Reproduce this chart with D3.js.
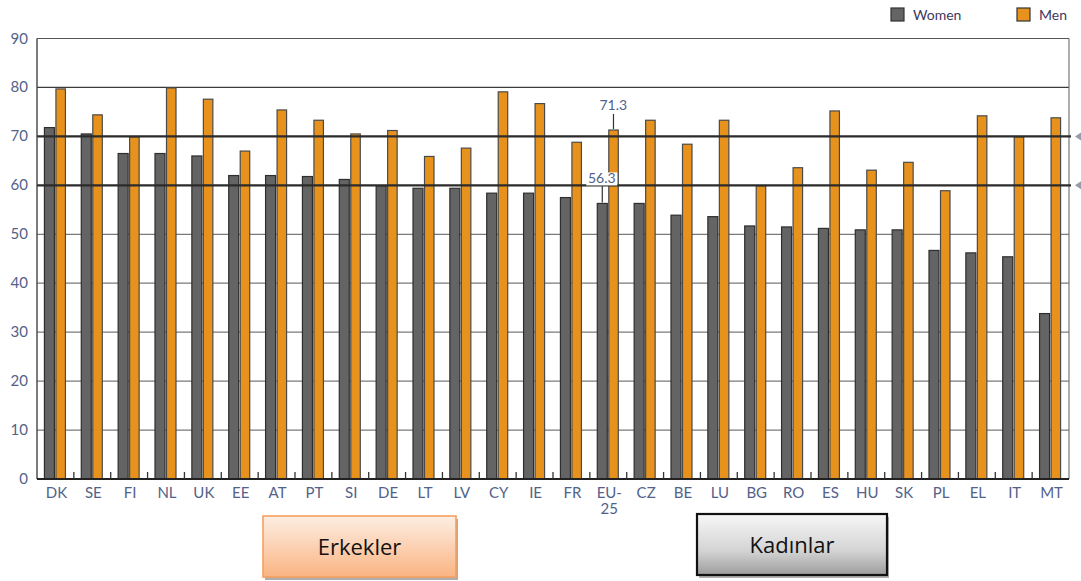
<!DOCTYPE html>
<html><head><meta charset="utf-8">
<script src="https://cdn.jsdelivr.net/npm/d3@7/dist/d3.min.js"></script>
<style>
html,body{margin:0;padding:0;background:#fff;}
svg{display:block;}
</style></head>
<body>
<svg id="c" width="1081" height="581"></svg>
<script>
const categories = ["DK","SE","FI","NL","UK","EE","AT","PT","SI","DE","LT","LV","CY","IE","FR","EU-25","CZ","BE","LU","BG","RO","ES","HU","SK","PL","EL","IT","MT"];
const women = [71.8,70.5,66.5,66.5,66.0,62.0,62.0,61.8,61.2,59.9,59.4,59.4,58.4,58.4,57.5,56.3,56.3,53.9,53.6,51.7,51.5,51.2,50.9,50.9,46.7,46.2,45.4,33.8];
const men =   [79.7,74.4,69.9,79.9,77.6,67.0,75.4,73.3,70.5,71.2,65.9,67.6,79.1,76.7,68.8,71.3,73.3,68.4,73.3,59.9,63.6,75.2,63.1,64.7,58.9,74.2,69.9,73.8];
const yTicks = [0,10,20,30,40,50,60,70,80,90];
const targets = [60,70];
const seriesNames = ["Women","Men"];
const boxLabels = ["Erkekler","Kadınlar"];

const svg = d3.select("#c");
const L = 37, R = 1069, T = 38.5, B = 479;
const x = d3.scaleBand().domain(categories).range([L,R]).paddingInner(0).paddingOuter(0);
const y = d3.scaleLinear().domain([0,90]).range([B,T]);
const bw = x.bandwidth();
const labelColor = "#52628a";
const font = "Lato, 'Open Sans', sans-serif";

// gridlines
const grid = svg.append("g");
grid.selectAll("line").data(yTicks.filter(v=>v>0 && !targets.includes(v)))
  .join("line")
  .attr("x1",L).attr("x2",R)
  .attr("y1",d=>y(d)).attr("y2",d=>y(d))
  .attr("stroke",d=> d===90 ? "#555" : (d===80 ? "#3a3a3a" : "#7a7a7a"))
  .attr("stroke-width",1.2);

// right border
svg.append("line").attr("x1",R).attr("x2",R).attr("y1",T).attr("y2",B).attr("stroke","#777").attr("stroke-width",1.2);

// bars
const g = svg.append("g");
categories.forEach((c,i)=>{
  const cx = x(c)+bw/2;
  g.append("rect").attr("x",cx-11).attr("width",10)
    .attr("y",y(women[i])).attr("height",B-y(women[i]))
    .attr("fill","#646464").attr("stroke","#2e2e2e").attr("stroke-width",1.2);
  g.append("rect").attr("x",cx+0.5).attr("width",9.5)
    .attr("y",y(men[i])).attr("height",B-y(men[i]))
    .attr("fill","#e8921e").attr("stroke","#4a4a4a").attr("stroke-width",1.2);
});

// target lines (on top of bars)
svg.append("g").selectAll("line").data(targets).join("line")
  .attr("x1",L).attr("x2",R+2)
  .attr("y1",d=>y(d)).attr("y2",d=>y(d))
  .attr("stroke","#2b2b2b").attr("stroke-width",2.2);
// arrows at right
svg.append("g").selectAll("path").data(targets).join("path")
  .attr("d",d=>`M${R+6},${y(d)} L${R+12},${y(d)-4} L${R+12},${y(d)+4} Z`)
  .attr("fill","#9a9aa8");

// left axis line
svg.append("line").attr("x1",L).attr("x2",L).attr("y1",T).attr("y2",B).attr("stroke","#444").attr("stroke-width",1.4);
// baseline
svg.append("line").attr("x1",L).attr("x2",R).attr("y1",B).attr("y2",B).attr("stroke","#222").attr("stroke-width",2);

// x ticks between groups (inward)
svg.append("g").selectAll("line").data(categories.slice(1)).join("line")
  .attr("x1",d=>x(d)).attr("x2",d=>x(d))
  .attr("y1",B).attr("y2",B-7)
  .attr("stroke","#333").attr("stroke-width",1.3);

// y labels
svg.append("g").selectAll("text").data(yTicks).join("text")
  .attr("x",28).attr("y",d=>y(d)+5)
  .attr("text-anchor","end")
  .attr("font-family",font).attr("font-size",15)
  .attr("fill",labelColor).text(d=>d);

// x labels
const xl = svg.append("g");
categories.forEach(c=>{
  const cx = x(c)+bw/2;
  const parts = c==="EU-25" ? ["EU-","25"] : [c];
  parts.forEach((p,j)=>{
    xl.append("text").attr("x",cx+1).attr("y",498+j*16)
      .attr("text-anchor","middle")
      .attr("font-family",font).attr("font-size",15)
      .attr("fill",labelColor).text(p);
  });
});

// annotations for EU-25
const iEU = categories.indexOf("EU-25");
const cEU = x("EU-25")+bw/2;
svg.append("line").attr("x1",cEU+5.2).attr("x2",cEU+5.2).attr("y1",y(men[iEU])-16).attr("y2",y(men[iEU])-1)
  .attr("stroke","#333").attr("stroke-width",1.2);
svg.append("text").attr("x",cEU+5).attr("y",y(men[iEU])-20)
  .attr("text-anchor","middle").attr("font-family",font).attr("font-size",14)
  .attr("fill",labelColor).text(men[iEU].toFixed(1));
svg.append("line").attr("x1",cEU-6).attr("x2",cEU-6).attr("y1",y(women[iEU])-18).attr("y2",y(women[iEU])-1)
  .attr("stroke","#333").attr("stroke-width",1.2);
svg.append("rect").attr("x",cEU-22).attr("y",y(women[iEU])-31).attr("width",31).attr("height",13).attr("fill","#fff");
svg.append("text").attr("x",cEU-6.5).attr("y",y(women[iEU])-20)
  .attr("text-anchor","middle").attr("font-family",font).attr("font-size",14)
  .attr("fill",labelColor).text(women[iEU].toFixed(1));

// legend
const leg = svg.append("g");
const legItems = [{n:seriesNames[0],fill:"#646464",stroke:"#333",x:891},{n:seriesNames[1],fill:"#e8921e",stroke:"#333",x:1017}];
legItems.forEach(it=>{
  leg.append("rect").attr("x",it.x).attr("y",8).attr("width",13).attr("height",13)
    .attr("fill",it.fill).attr("stroke",it.stroke).attr("stroke-width",1.2);
  leg.append("text").attr("x",it.x+22).attr("y",20)
    .attr("font-family",font).attr("font-size",14).attr("fill","#3d3860").text(it.n);
});

// bottom boxes
const defs = svg.append("defs");
const g1 = defs.append("linearGradient").attr("id","gOr").attr("x1",0).attr("x2",0).attr("y1",0).attr("y2",1);
g1.append("stop").attr("offset","0%").attr("stop-color","#fdeee3");
g1.append("stop").attr("offset","100%").attr("stop-color","#fab482");
const g2 = defs.append("linearGradient").attr("id","gGr").attr("x1",0).attr("x2",0).attr("y1",0).attr("y2",1);
g2.append("stop").attr("offset","0%").attr("stop-color","#f7f7f7");
g2.append("stop").attr("offset","60%").attr("stop-color","#d4d4d4");
g2.append("stop").attr("offset","100%").attr("stop-color","#9c9c9c");

const boxes = [
  {t:boxLabels[0],x:263,y:516,w:193,h:61,fill:"url(#gOr)",stroke:"#f5a060",sw:1.6},
  {t:boxLabels[1],x:697,y:514,w:190,h:61,fill:"url(#gGr)",stroke:"#111",sw:2.2}
];
boxes.forEach(b=>{
  svg.append("rect").attr("x",b.x+2).attr("y",b.y+3).attr("width",b.w).attr("height",b.h).attr("fill","#9a9a9a").attr("opacity",0.8);
  svg.append("rect").attr("x",b.x).attr("y",b.y).attr("width",b.w).attr("height",b.h)
    .attr("fill",b.fill).attr("stroke",b.stroke).attr("stroke-width",b.sw);
  svg.append("text").attr("x",b.x+b.w/2).attr("y",b.y+b.h/2+8)
    .attr("text-anchor","middle").attr("font-family","'Open Sans', sans-serif").attr("font-size",22)
    .attr("fill","#111").text(b.t);
});
</script>
</body></html>
